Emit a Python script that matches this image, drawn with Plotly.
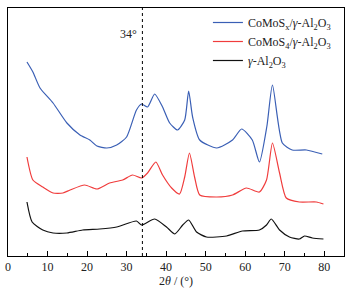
import plotly.graph_objects as go

# 2θ positions (degrees) and relative intensities (arbitrary units)
blue_x = [4.8, 6.3, 8.1, 11.4, 14.9, 18.2, 20.7, 22.5, 25.0, 27.5, 30.0, 32.5, 33.8, 35.3, 37.1, 39.1, 40.9, 42.9, 44.7, 45.7, 46.7, 48.5, 52.8, 56.8, 59.1, 61.8, 63.6, 65.5, 66.9, 69.4, 71.9, 75.5, 79.5]
blue_y = [194, 184, 168, 153, 133, 121, 116, 110, 108, 111, 119, 146, 152, 149, 162, 149, 133, 126, 136, 165, 139, 116, 108, 116, 127, 116, 94, 130, 171, 113, 106, 106, 102]

red_x = [4.8, 6.3, 8.8, 11.4, 13.9, 15.7, 19.4, 22.5, 25.7, 29.0, 31.5, 33.8, 35.3, 37.4, 39.1, 41.4, 43.4, 44.7, 45.9, 47.2, 48.5, 52.8, 56.8, 60.3, 63.6, 65.4, 66.9, 68.7, 70.4, 73.7, 78.0, 79.8]
red_y = [99, 76, 69, 63, 63, 66, 71, 67, 73, 76, 81, 78, 83, 94, 81, 68, 62, 79, 103, 79, 61, 59, 61, 68, 64, 76, 113, 83, 58, 54, 54, 52]

black_x = [4.8, 6.1, 8.8, 11.4, 14.9, 18.9, 23.2, 27.5, 32.5, 33.8, 37.1, 40.1, 42.2, 44.2, 45.7, 47.7, 50.2, 55.3, 59.3, 63.6, 65.4, 66.6, 68.7, 71.2, 73.7, 75.0, 77.0, 79.8]
black_y = [54, 34, 26, 23, 23, 26, 27, 29, 35, 31, 37, 29, 22, 31, 36, 24, 19, 20, 25, 26, 31, 37, 26, 19, 17, 20, 18, 17]

names = ["CoMoS<sub>x</sub>/<i>γ</i>-Al<sub>2</sub>O<sub>3</sub>",
         "CoMoS<sub>4</sub>/<i>γ</i>-Al<sub>2</sub>O<sub>3</sub>",
         "<i>γ</i>-Al<sub>2</sub>O<sub>3</sub>"]
colors = ["#3a5fb5", "#f03c3c", "#111111"]
x_ticks = [0, 10, 20, 30, 40, 50, 60, 70, 80]
marker_angle = 34

fig = go.Figure()
for xs, ys, nm, c in [(blue_x, blue_y, names[0], colors[0]),
                      (red_x, red_y, names[1], colors[1]),
                      (black_x, black_y, names[2], colors[2])]:
    fig.add_trace(go.Scatter(x=xs, y=ys, mode="lines", name=nm,
                             line=dict(color=c, width=1.2, shape="spline", smoothing=0.6)))

fig.add_vline(x=marker_angle, line=dict(color="black", width=1, dash="dot"))
fig.add_annotation(x=marker_angle, y=222, xref="x", yref="y", text="34°",
                   showarrow=False, xanchor="right", xshift=-3,
                   font=dict(family="Liberation Serif", size=12, color="#222"))

fig.update_layout(
    width=352, height=288,
    margin=dict(l=8, r=8, t=8, b=32, autoexpand=False),
    paper_bgcolor="white", plot_bgcolor="white",
    font=dict(family="Liberation Serif", size=12, color="#222"),
    showlegend=True,
    legend=dict(x=0.595, y=1.0, xanchor="left", yanchor="top",
                bgcolor="rgba(0,0,0,0)", font=dict(size=12),
                tracegroupgap=0, itemwidth=30),
    xaxis=dict(range=[0, 85], tickvals=x_ticks, ticks="inside", ticklen=5,
               tickcolor="black", showline=True, linecolor="black", mirror=True,
               linewidth=1, showgrid=False, zeroline=False, automargin=False,
               minor=dict(dtick=5, ticks="inside", ticklen=3, tickcolor="black"),
               title=dict(text="2<i>θ</i> / (°)", standoff=2, font=dict(size=12)),
               tickfont=dict(size=12)),
    yaxis=dict(range=[0, 248], showticklabels=False, ticks="", showline=True,
               linecolor="black", mirror=True, linewidth=1, showgrid=False,
               zeroline=False, automargin=False),
)

fig.write_html("out.html", config={"displayModeBar": False},
               post_script="document.body.style.margin='0';document.body.style.overflow='hidden';")
